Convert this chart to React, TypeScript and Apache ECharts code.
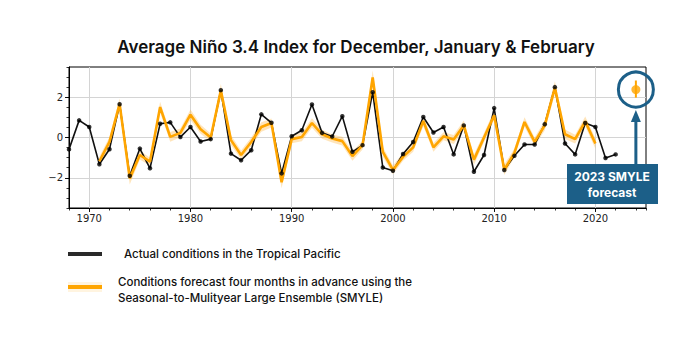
import React, { useEffect, useRef } from "react";
import * as echarts from "echarts";

const actualYears = [
  1968, 1969, 1970, 1971, 1972, 1973, 1974, 1975, 1976, 1977, 1978, 1979, 1980, 1981, 1982, 1983, 1984, 1985,
  1986, 1987, 1988, 1989, 1990, 1991, 1992, 1993, 1994, 1995, 1996, 1997, 1998, 1999, 2000, 2001, 2002, 2003,
  2004, 2005, 2006, 2007, 2008, 2009, 2010, 2011, 2012, 2013, 2014, 2015, 2016, 2017, 2018, 2019, 2020, 2021, 2022,
];
const actualValues = [
  -0.59, 0.85, 0.52, -1.33, -0.58, 1.65, -1.9, -0.55, -1.53, 0.68, 0.75, 0.02, 0.52, -0.2, -0.08, 2.35, -0.8, -1.13,
  -0.63, 1.15, 0.73, -1.78, 0.06, 0.36, 1.64, 0.23, 0.05, 1.06, -0.71, -0.38, 2.25, -1.49, -1.65, -0.82, -0.22, 1.02,
  0.25, 0.52, -0.84, 0.6, -1.7, -0.87, 1.46, -1.61, -0.91, -0.35, -0.35, 0.66, 2.5, -0.3, -0.84, 0.72, 0.52, -1.02, -0.84,
];

const forecastYears = [
  1971, 1972, 1973, 1974, 1975, 1976, 1977, 1978, 1979, 1980, 1981, 1982, 1983, 1984, 1985, 1986, 1987, 1988,
  1989, 1990, 1991, 1992, 1993, 1994, 1995, 1996, 1997, 1998, 1999, 2000, 2001, 2002, 2003, 2004, 2005, 2006,
  2007, 2008, 2009, 2010, 2011, 2012, 2013, 2014, 2015, 2016, 2017, 2018, 2019, 2020,
];
const forecastValues = [
  -1.18, -0.22, 1.67, -2.03, -0.87, -1.2, 1.51, 0.03, 0.23, 1.13, 0.41, 0.0, 2.33, -0.13, -0.87, -0.22, 0.52, 0.72,
  -2.22, -0.08, 0.03, 0.72, 0.16, -0.05, -0.18, -0.92, -0.38, 2.98, -0.71, -1.61, -0.96, -0.49, 0.82, -0.49, 0.06, -0.1,
  0.6, -1.1, 0.0, 1.1, -1.6, -0.76, 0.77, -0.22, 0.6, 2.47, 0.16, -0.08, 0.8, -0.3,
];
// estimated half-width of the ensemble spread band
const forecastSpread = [
  0.22, 0.24, 0.27, 0.3, 0.22, 0.2, 0.27, 0.24, 0.22, 0.26, 0.22, 0.2, 0.32, 0.24, 0.22, 0.22, 0.24, 0.22,
  0.3, 0.2, 0.22, 0.24, 0.22, 0.2, 0.22, 0.24, 0.22, 0.35, 0.24, 0.22, 0.2, 0.22, 0.26, 0.22, 0.2, 0.22,
  0.24, 0.26, 0.22, 0.24, 0.26, 0.22, 0.24, 0.22, 0.24, 0.32, 0.24, 0.22, 0.24, 0.26,
];

const outlookYear = [2024];
const outlookValue = [2.38];
const outlookLow = [1.98];
const outlookHigh = [2.83];

const xMajorTicks = [1970, 1980, 1990, 2000, 2010, 2020];
const yMajorTicks = [-2, 0, 2];

const titleText = "Average Niño 3.4 Index for December, January & February";
const legendActual = "Actual conditions in the Tropical Pacific";
const legendForecast1 = "Conditions forecast four months in advance using the";
const legendForecast2 = "Seasonal-to-Mulityear Large Ensemble (SMYLE)";
const boxText1 = "2023 SMYLE";
const boxText2 = "forecast";

const ORANGE = "#ffa500";
const BLUE = "#1c5f88";
const FONT = "Inter";

export default function App() {
  const ref = useRef<HTMLDivElement>(null);

  useEffect(() => {
    if (!ref.current) return;
    const chart = echarts.init(ref.current, null, { renderer: "svg" });

    const band = forecastYears.map((y, i) => [y, forecastValues[i] - forecastSpread[i], forecastValues[i] + forecastSpread[i]]);
    const actual = actualYears.map((y, i) => [y, actualValues[i]]);
    const forecast = forecastYears.map((y, i) => [y, forecastValues[i]]);
    const outlook = outlookYear.map((y, i) => [y, outlookValue[i]]);
    const errBar = [
      [outlookYear[0], outlookLow[0]],
      [outlookYear[0], outlookHigh[0]],
    ];

    const labelStyle = { fontFamily: "DejaVu Sans", fontSize: 10, color: "#222" };

    chart.setOption({
      animation: false,
      backgroundColor: "#fff",
      grid: {
        left: 69,
        right: 54,
        top: 67,
        height: 141,
        show: true,
        borderColor: "#000",
        borderWidth: 1,
        backgroundColor: "transparent",
      },
      xAxis: [
        {
          type: "value",
          min: 1968,
          max: 2025,
          interval: 2,
          axisLine: { show: true, onZero: false, lineStyle: { color: "#000", width: 1 } },
          axisTick: { show: true, length: 2.5, lineStyle: { color: "#000", width: 0.8 } },
          axisLabel: { show: false },
          splitLine: { show: false },
        },
        {
          type: "value",
          min: 1968,
          max: 2025,
          position: "bottom",
          offset: 0,
          axisLine: { show: false, onZero: false },
          axisTick: { show: true, length: 4, customValues: xMajorTicks, lineStyle: { color: "#000", width: 0.9 } },
          axisLabel: { ...labelStyle, margin: 5, customValues: xMajorTicks, formatter: (v: number) => String(v) },
          splitLine: { show: true, lineStyle: { color: "#d4d4d4", width: 1 } },
        },
      ],
      yAxis: [
        {
          type: "value",
          min: -3.5,
          max: 3.5,
          interval: 0.5,
          axisLine: { show: true, onZero: false, lineStyle: { color: "#000", width: 1 } },
          axisTick: { show: true, length: 2.5, lineStyle: { color: "#000", width: 0.8 } },
          axisLabel: { show: false },
          splitLine: { show: false },
        },
        {
          type: "value",
          min: -3.5,
          max: 3.5,
          position: "left",
          offset: 0,
          axisLine: { show: false, onZero: false },
          axisTick: { show: true, length: 4, customValues: yMajorTicks, lineStyle: { color: "#000", width: 0.9 } },
          axisLabel: {
            ...labelStyle,
            margin: 6,
            customValues: yMajorTicks,
            formatter: (v: number) => (v < 0 ? "\u2212" + Math.abs(v) : String(v)),
          },
          splitLine: { show: true, lineStyle: { color: "#d4d4d4", width: 1 } },
        },
      ],
      series: [
        {
          type: "custom",
          data: band,
          z: 1,
          clip: true,
          renderItem: (params: any, api: any) => {
            if (params.dataIndex !== 0) return null;
            const up: number[][] = [];
            const down: number[][] = [];
            for (let i = 0; i < band.length; i++) {
              up.push(api.coord([band[i][0], band[i][2]]));
              down.push(api.coord([band[i][0], band[i][1]]));
            }
            const pts = up.concat(down.reverse());
            return {
              type: "polygon",
              shape: { points: pts },
              style: { fill: "rgba(255,180,60,0.35)", stroke: "none" },
            };
          },
        },
        {
          type: "line",
          data: actual,
          symbol: "none",
          lineStyle: { color: "#111", width: 1.6 },
          z: 2,
        },
        {
          type: "line",
          data: forecast,
          symbol: "none",
          lineStyle: { color: ORANGE, width: 2.6 },
          z: 3,
        },
        {
          type: "scatter",
          data: actual,
          symbol: "circle",
          symbolSize: 4.5,
          itemStyle: { color: "#000" },
          z: 4,
        },
        {
          type: "line",
          data: errBar,
          symbol: "none",
          lineStyle: { color: ORANGE, width: 2 },
          z: 3,
        },
        {
          type: "scatter",
          data: outlook,
          symbol: "circle",
          symbolSize: 9,
          itemStyle: { color: ORANGE },
          z: 4,
        },
      ],
    });

    const c = chart.convertToPixel({ gridIndex: 0 }, [outlookYear[0], outlookValue[0]]) as number[];
    const cx = c[0];
    const cy = c[1];

    chart.setOption({
      graphic: [
        {
          type: "text",
          x: 356,
          y: 47,
          style: {
            text: titleText,
            fontFamily: FONT,
            fontSize: 17,
            fontWeight: 600,
            fill: "#111",
            align: "center",
            verticalAlign: "middle",
          },
        },
        {
          type: "line",
          shape: { x1: 68, y1: 254, x2: 102, y2: 254 },
          style: { stroke: "#2a2a2a", lineWidth: 4 },
        },
        {
          type: "text",
          x: 124,
          y: 254,
          style: { text: legendActual, fontFamily: FONT, fontSize: 11.5, fontWeight: 500, fill: "#111", verticalAlign: "middle" },
        },
        {
          type: "rect",
          shape: { x: 68, y: 282, width: 34, height: 10 },
          style: { fill: "rgba(255,165,0,0.12)" },
        },
        {
          type: "line",
          shape: { x1: 68, y1: 287, x2: 102, y2: 287 },
          style: { stroke: ORANGE, lineWidth: 4 },
        },
        {
          type: "text",
          x: 118,
          y: 282,
          style: { text: legendForecast1, fontFamily: FONT, fontSize: 11.5, fontWeight: 500, fill: "#111", verticalAlign: "middle" },
        },
        {
          type: "text",
          x: 118,
          y: 298,
          style: { text: legendForecast2, fontFamily: FONT, fontSize: 11.5, fontWeight: 500, fill: "#111", verticalAlign: "middle" },
        },
        {
          type: "circle",
          shape: { cx: cx, cy: cy, r: 17.5 },
          style: { fill: "none", stroke: BLUE, lineWidth: 3 },
          z: 10,
        },
        {
          type: "line",
          shape: { x1: cx, y1: 164, x2: cx, y2: 120 },
          style: { stroke: BLUE, lineWidth: 3 },
          z: 10,
        },
        {
          type: "polygon",
          shape: { points: [[cx, 110], [cx - 5, 122], [cx + 5, 122]] },
          style: { fill: BLUE },
          z: 10,
        },
        {
          type: "rect",
          shape: { x: 567, y: 164, width: 91, height: 40 },
          style: { fill: BLUE },
          z: 10,
        },
        {
          type: "text",
          x: 612,
          y: 176,
          style: { text: boxText1, fontFamily: FONT, fontSize: 12, fontWeight: 700, fill: "#fff", align: "center", verticalAlign: "middle" },
          z: 11,
        },
        {
          type: "text",
          x: 612,
          y: 192,
          style: { text: boxText2, fontFamily: FONT, fontSize: 12, fontWeight: 700, fill: "#fff", align: "center", verticalAlign: "middle" },
          z: 11,
        },
      ],
    });

    return () => chart.dispose();
  }, []);

  return <div ref={ref} style={{ position: "fixed", left: 0, top: 0, width: 700, height: 350 }} />;
}
